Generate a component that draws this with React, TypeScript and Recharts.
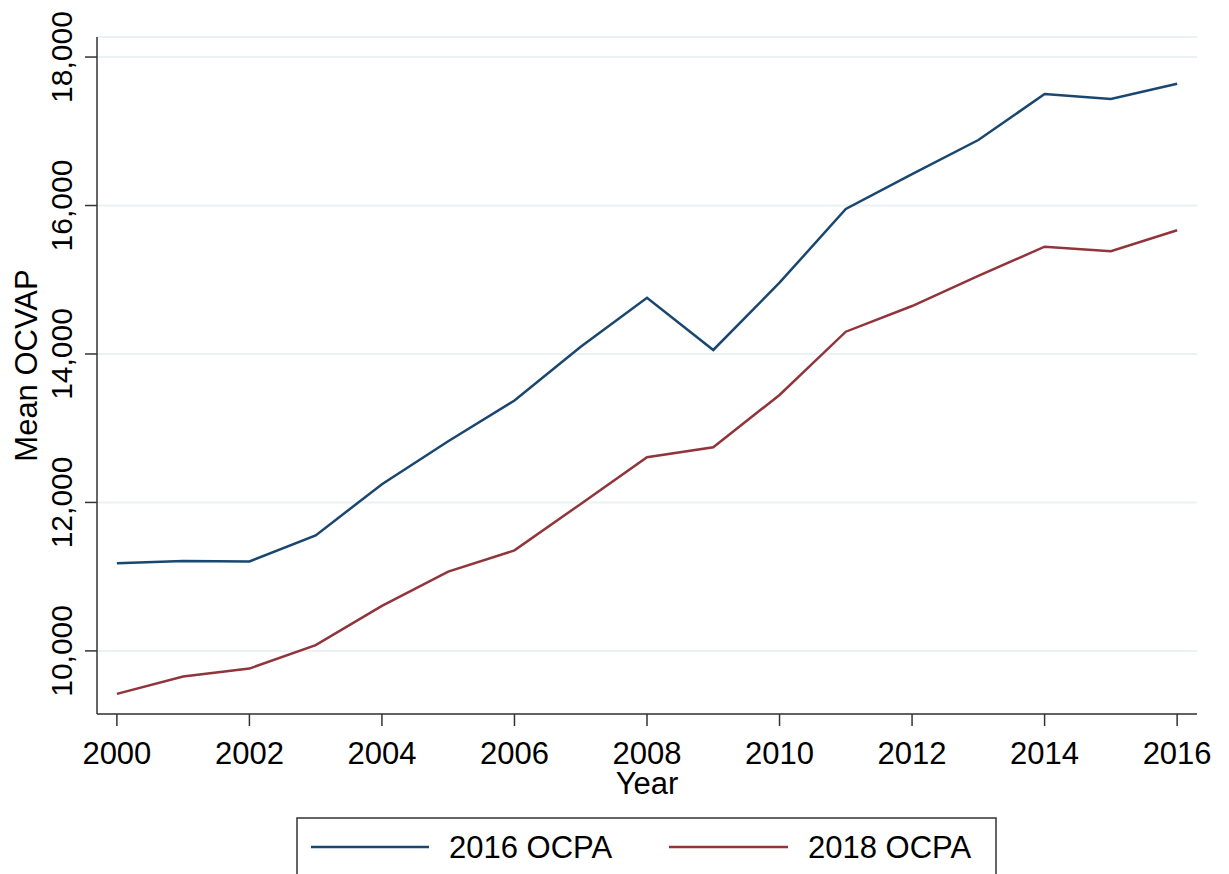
import { LineChart, Line, XAxis, YAxis, CartesianGrid } from 'recharts';

const years = [2000, 2001, 2002, 2003, 2004, 2005, 2006, 2007, 2008, 2009, 2010, 2011, 2012, 2013, 2014, 2015, 2016];
const ocpa2016 = [11181, 11212, 11205, 11556, 12245, 12824, 13374, 14098, 14758, 14054, 14960, 15953, 16424, 16882, 17502, 17434, 17640];
const ocpa2018 = [9421, 9654, 9762, 10077, 10606, 11068, 11354, 11980, 12609, 12743, 13448, 14300, 14646, 15051, 15445, 15383, 15666];
const xTicks = [2000, 2002, 2004, 2006, 2008, 2010, 2012, 2014, 2016];
const yTicks = [10000, 12000, 14000, 16000, 18000];
const seriesNames = ['2016 OCPA', '2018 OCPA'];

const BLUE = '#1a476f';
const RED = '#90353b';
const AXIS = '#333333';
const FONT = '"Liberation Sans", Arial, sans-serif';

const data = years.map((year, i) => ({ year, a: ocpa2016[i], b: ocpa2018[i] }));

const fmt = (v: number) => v.toLocaleString('en-US');

function YTick(props: any) {
  const { x, y, payload } = props;
  return (
    <text
      x={x}
      y={y}
      transform={`rotate(-90 ${x} ${y})`}
      textAnchor="middle"
      fontSize={30}
      fontFamily={FONT}
      fill="#000"
    >
      {fmt(payload.value)}
    </text>
  );
}

function YLabel(props: any) {
  const { viewBox } = props;
  const cx = viewBox.x;
  const cy = viewBox.y + viewBox.height / 2 - 10;
  return (
    <text
      x={cx}
      y={cy}
      transform={`rotate(-90 ${cx} ${cy})`}
      textAnchor="middle"
      fontSize={31}
      fontFamily={FONT}
      fill="#000"
    >
      Mean OCVAP
    </text>
  );
}

function XLabel(props: any) {
  const { viewBox } = props;
  const cx = viewBox.x + viewBox.width / 2;
  return (
    <text x={cx} y={viewBox.y + 80} textAnchor="middle" fontSize={31} fontFamily={FONT} fill="#000">
      Year
    </text>
  );
}

export default function App() {
  return (
    <div style={{ position: 'absolute', left: 0, top: 0, width: 1229, height: 874, background: '#fff', overflow: 'hidden' }}>
      <LineChart width={1229} height={874} data={data} margin={{ top: 37, right: 32, bottom: 100, left: 37 }}>
        <CartesianGrid horizontal vertical={false} stroke="#eaf2f3" strokeWidth={2} />
        <XAxis
          dataKey="year"
          type="number"
          domain={[1999.7, 2016.3]}
          ticks={xTicks}
          height={60}
          stroke={AXIS}
          strokeWidth={1.5}
          tickSize={12}
          tickMargin={16}
          tick={{ fontSize: 31, fontFamily: FONT, fill: '#000' }}
          label={<XLabel />}
        />
        <YAxis
          type="number"
          domain={[9150, 18270]}
          allowDataOverflow
          ticks={yTicks}
          width={60}
          stroke={AXIS}
          strokeWidth={1.5}
          tickSize={12}
          tickMargin={13}
          tick={<YTick />}
          label={<YLabel />}
        />
        <Line dataKey="a" name={seriesNames[0]} stroke={BLUE} strokeWidth={2.5} dot={false} isAnimationActive={false} />
        <Line dataKey="b" name={seriesNames[1]} stroke={RED} strokeWidth={2.5} dot={false} isAnimationActive={false} />
      </LineChart>
      <svg style={{ position: 'absolute', left: 0, top: 0 }} width={1229} height={874}>
        <rect x={297} y={818} width={699} height={80} fill="none" stroke={AXIS} strokeWidth={1.5} />
        <line x1={311} x2={429} y1={847} y2={847} stroke={BLUE} strokeWidth={2.5} />
        <text x={449} y={858} fontSize={31} fontFamily={FONT} fill="#000">{seriesNames[0]}</text>
        <line x1={669} x2={788} y1={847} y2={847} stroke={RED} strokeWidth={2.5} />
        <text x={808} y={858} fontSize={31} fontFamily={FONT} fill="#000">{seriesNames[1]}</text>
      </svg>
    </div>
  );
}
